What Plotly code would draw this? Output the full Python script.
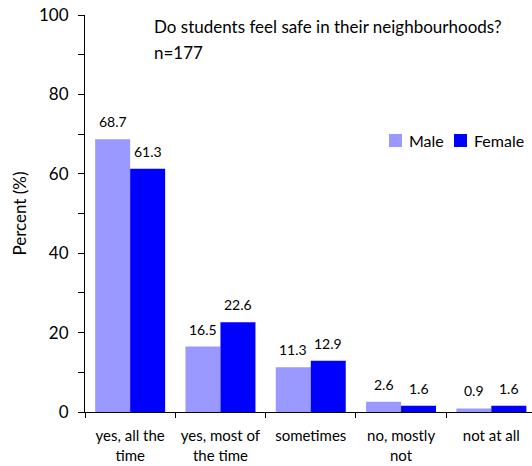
import plotly.graph_objects as go

categories = ["yes, all the<br>time", "yes, most of<br>the time", "sometimes", "no, mostly<br>not", "not at all"]
male = [68.7, 16.5, 11.3, 2.6, 0.9]
female = [61.3, 22.6, 12.9, 1.6, 1.6]
y_ticks = [0, 10, 20, 30, 40, 50, 60, 70, 80, 90, 100]
y_ticktext = ["0", "", "20", "", "40", "", "60", "", "80", "", "100"]
series_names = ["Male", "Female"]

FONT = "Lato, 'Open Sans', sans-serif"
COLORS = ["#9999ff", "#0000ff"]

L, T, W, H = 85, 15, 447, 397


def px_x(p):
    return (p - L) / W


def px_y(p):
    return (T + H - p) / H


fig = go.Figure()
for name, vals, col in zip(series_names, [male, female], COLORS):
    fig.add_trace(go.Bar(name=name, x=categories, y=vals, marker=dict(color=col, line=dict(width=0)),
                         showlegend=False))

annotations = []
for vals, shift in [(male, -17.5), (female, 17.5)]:
    for c, v in zip(categories, vals):
        annotations.append(dict(x=c, y=v, xref="x", yref="y", text=f"{v:.1f}", showarrow=False,
                                xshift=shift, yshift=7, yanchor="bottom",
                                font=dict(family=FONT, size=14, color="#000")))

annotations.append(dict(x=px_x(152), y=px_y(27), xref="paper", yref="paper",
                        text="Do students feel safe in their neighbourhoods?", showarrow=False,
                        xanchor="left", yanchor="middle", font=dict(family=FONT, size=17, color="#000")))
annotations.append(dict(x=px_x(152), y=px_y(52), xref="paper", yref="paper",
                        text="n=177", showarrow=False,
                        xanchor="left", yanchor="middle", font=dict(family=FONT, size=17, color="#000")))

# manual legend
shapes = []
legend_sq_x = [389, 454]
for name, col, sx in zip(series_names, COLORS, legend_sq_x):
    shapes.append(dict(type="rect", xref="paper", yref="paper",
                       x0=px_x(sx), x1=px_x(sx + 13), y0=px_y(147), y1=px_y(134),
                       fillcolor=col, line=dict(width=0)))
    annotations.append(dict(x=px_x(sx + 18), y=px_y(140), xref="paper", yref="paper", text=name,
                            showarrow=False, xanchor="left", yanchor="middle",
                            font=dict(family=FONT, size=16, color="#000")))

fig.update_layout(
    width=532, height=466,
    margin=dict(l=L, r=0, t=T, b=466 - T - H, autoexpand=False),
    paper_bgcolor="white", plot_bgcolor="white",
    font=dict(family=FONT, size=13, color="#000"),
    barmode="group", bargap=0.225, bargroupgap=0,
    showlegend=False,
    annotations=annotations,
    shapes=shapes,
    xaxis=dict(range=[-0.5, 4.45], showline=True, linecolor="#000", linewidth=1,
               ticks="outside", tickson="boundaries", ticklen=5, tickcolor="#000",
               ticklabelstandoff=10, automargin=False,
               tickfont=dict(family=FONT, size=15, color="#000"), showgrid=False, zeroline=False),
    yaxis=dict(range=[0, 100], showline=True, linecolor="#000", linewidth=1,
               tickmode="array", tickvals=y_ticks, ticktext=y_ticktext,
               ticks="outside", ticklen=6, tickcolor="#000", ticklabelstandoff=6, automargin=False,
               tickfont=dict(family=FONT, size=17, color="#000"), showgrid=False, zeroline=False,
               title=dict(text="Percent (%)", font=dict(family=FONT, size=17, color="#000"), standoff=8)),
)

fig.write_html("out.html", config={"displayModeBar": False},
               post_script="document.body.style.margin='0';document.body.style.overflow='hidden';")
